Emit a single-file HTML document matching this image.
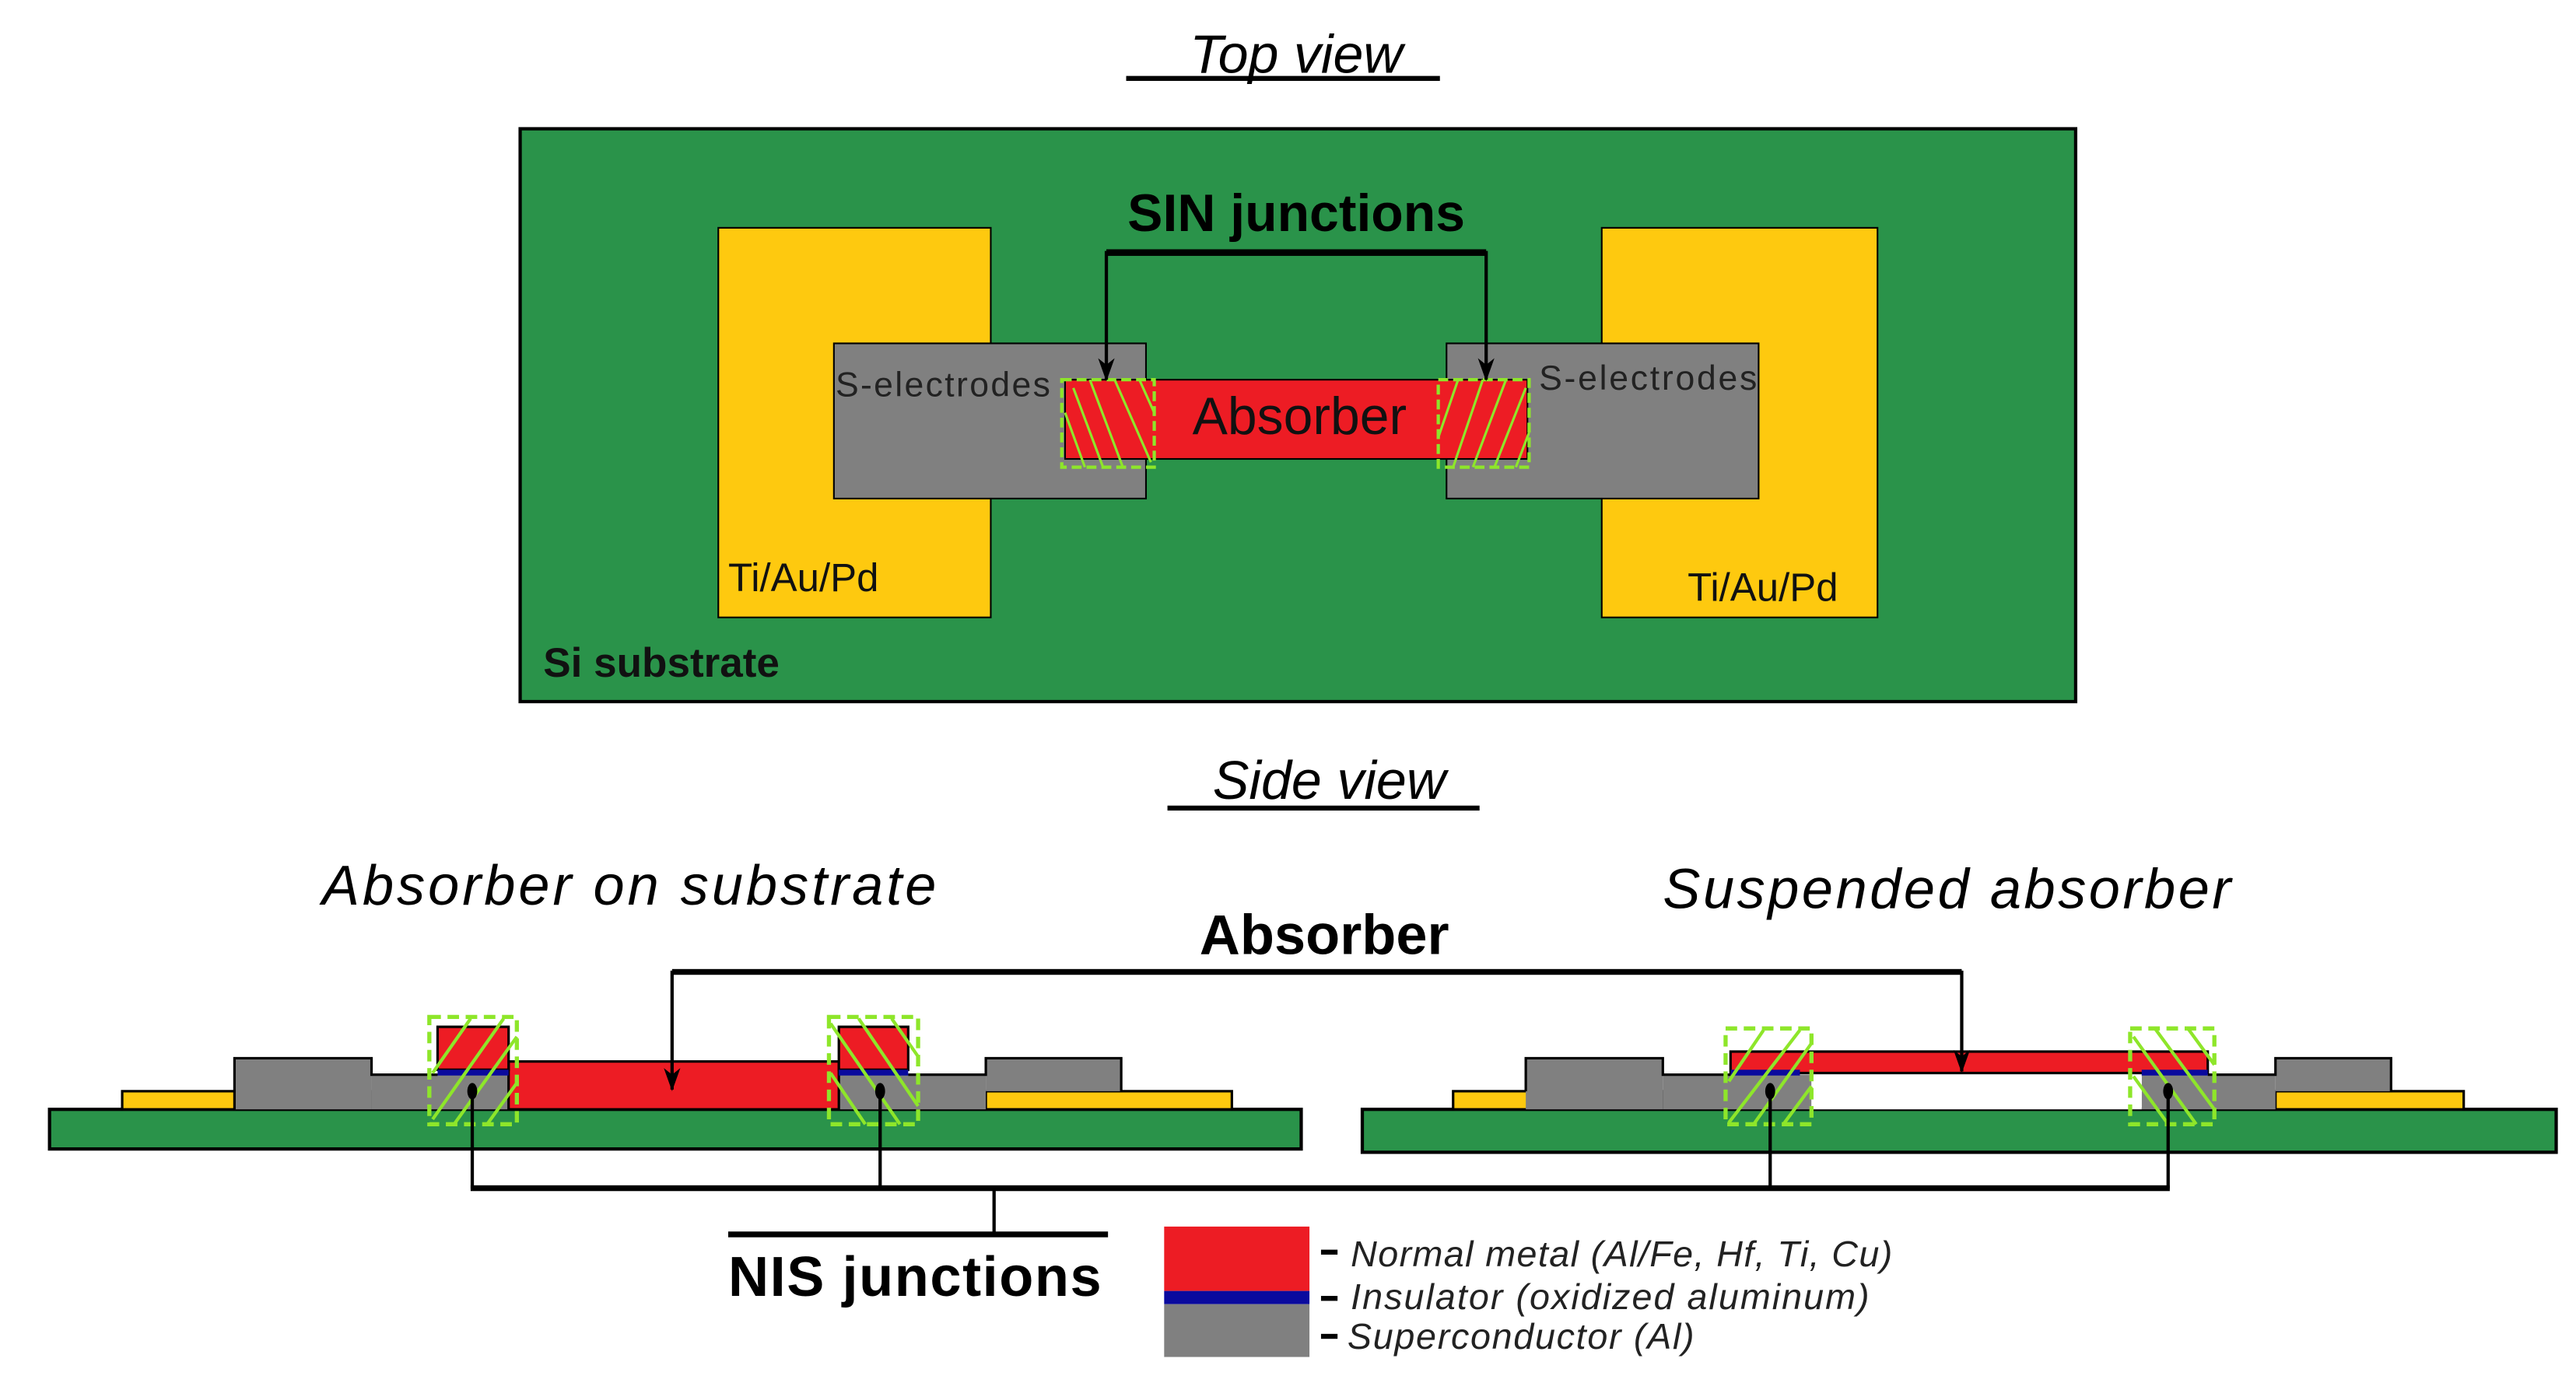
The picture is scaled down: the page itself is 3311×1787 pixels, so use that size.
<!DOCTYPE html>
<html><head><meta charset="utf-8"><style>html,body{margin:0;padding:0;background:#fff}svg{display:block}</style></head>
<body>
<svg width="3311" height="1787" viewBox="0 0 1560 842" preserveAspectRatio="none" xmlns="http://www.w3.org/2000/svg" font-family="Liberation Sans, sans-serif">
<defs>
<marker id="ar" markerWidth="14" markerHeight="10" refX="13" refY="5" orient="auto-start-reverse" markerUnits="userSpaceOnUse" viewBox="0 0 14 10"><path d="M0,0 L4,5 L0,10 L14,5 Z" fill="#000"/></marker>
</defs>
<!-- Top view -->
<text x="785" y="44" font-size="33" font-style="italic" text-anchor="middle">Top view</text>
<rect x="682" y="46" width="190" height="3" fill="#000"/>
<rect x="315" y="78" width="942" height="347" fill="#2a934a" stroke="#000" stroke-width="2"/>
<rect x="435" y="138" width="165" height="236" fill="#fec90f" stroke="#000" stroke-width="1"/>
<rect x="970" y="138" width="167" height="236" fill="#fec90f" stroke="#000" stroke-width="1"/>
<rect x="505" y="208" width="189" height="94" fill="#808080" stroke="#000" stroke-width="1"/>
<rect x="876" y="208" width="189" height="94" fill="#808080" stroke="#000" stroke-width="1"/>
<rect x="645" y="230" width="280" height="48" fill="#ed1c24" stroke="#000" stroke-width="1"/>
<g stroke="#8ee62a" stroke-width="1.5" fill="none">
<rect x="643" y="230" width="56" height="53" stroke-dasharray="6,3" stroke-width="2"/>
<path d="M650,235 L668,283 M660,230 L680,283 M675,230 L697,280 M690,230 L699,250 M645,250 L657,283"/>
<rect x="871" y="230" width="55" height="53" stroke-dasharray="6,3" stroke-width="2"/>
<path d="M880,283 L898,230 M892,283 L912,230 M905,283 L924,235 M918,283 L926,262 M871,265 L883,230"/>
</g>
<text x="787" y="263" font-size="32" text-anchor="middle" fill="#111">Absorber</text>
<text x="785" y="140" font-size="32" font-weight="bold" text-anchor="middle">SIN junctions</text>
<path d="M670,230 L670,153 L900,153 L900,230" fill="none" stroke="#000" stroke-width="2" marker-start="url(#ar)" marker-end="url(#ar)"/>
<rect x="670" y="151" width="230" height="4" fill="#000"/>
<text x="506" y="240" font-size="21" fill="#222" textLength="130">S-electrodes</text>
<text x="932" y="236" font-size="21" fill="#222" textLength="132">S-electrodes</text>
<text x="441" y="358" font-size="24" fill="#111">Ti/Au/Pd</text>
<text x="1022" y="364" font-size="24" fill="#111">Ti/Au/Pd</text>
<text x="329" y="410" font-size="25" font-weight="bold" fill="#111">Si substrate</text>

<!-- Side view -->
<text x="805" y="484" font-size="33" font-style="italic" text-anchor="middle">Side view</text>
<rect x="707" y="488" width="189" height="3" fill="#000"/>
<text x="195" y="548" font-size="34" font-style="italic" textLength="372">Absorber on substrate</text>
<text x="1007" y="550" font-size="34" font-style="italic" textLength="344">Suspended absorber</text>
<text x="802" y="578" font-size="34" font-weight="bold" text-anchor="middle">Absorber</text>

<!-- left cross-section -->
<rect x="30" y="672" width="758" height="24" fill="#2a934a" stroke="#000" stroke-width="2"/>
<rect x="74" y="661" width="151" height="11" fill="#fec90f" stroke="#000" stroke-width="1.5"/>
<rect x="597" y="661" width="149" height="11" fill="#fec90f" stroke="#000" stroke-width="1.5"/>
<rect x="142" y="641" width="83" height="31" fill="#808080"/>
<rect x="225" y="651" width="85" height="21" fill="#808080"/>
<path d="M142,672 L142,641 L225,641 L225,651 L265,651" fill="none" stroke="#000" stroke-width="1.5"/>
<rect x="597" y="641" width="82" height="20" fill="#808080"/>
<rect x="500" y="651" width="97" height="21" fill="#808080"/>
<path d="M550,651 L597,651 L597,641 L679,641 L679,661" fill="none" stroke="#000" stroke-width="1.5"/>
<rect x="308" y="643" width="200" height="29" fill="#ed1c24" stroke="#000" stroke-width="1.5"/>
<rect x="265" y="622" width="43" height="26" fill="#ed1c24" stroke="#000" stroke-width="1.5"/>
<rect x="265" y="648" width="43" height="3.5" fill="#0a0a9e"/>
<rect x="508" y="622" width="42" height="26" fill="#ed1c24" stroke="#000" stroke-width="1.5"/>
<rect x="508" y="648" width="42" height="3.5" fill="#0a0a9e"/>
<g stroke="#8ee62a" fill="none" stroke-width="2">
<rect x="260" y="616" width="53" height="65" stroke-dasharray="7,4" stroke-width="2.5"/>
<path d="M262,650 L285,617 M262,678 L305,617 M275,681 L313,628 M295,681 L313,656"/>
<rect x="502" y="616" width="54" height="65" stroke-dasharray="7,4" stroke-width="2.5"/>
<path d="M503,620 L545,681 M520,617 L556,670 M540,617 L556,640 M503,650 L524,681"/>
</g>

<!-- right cross-section -->
<rect x="825" y="672" width="723" height="26" fill="#2a934a" stroke="#000" stroke-width="2"/>
<rect x="880" y="661" width="127" height="11" fill="#fec90f" stroke="#000" stroke-width="1.5"/>
<rect x="1378" y="661" width="114" height="11" fill="#fec90f" stroke="#000" stroke-width="1.5"/>
<rect x="924" y="641" width="83" height="31" fill="#808080"/>
<rect x="1007" y="651" width="90" height="21" fill="#808080"/>
<path d="M924,661 L924,641 L1007,641 L1007,651 L1048,651" fill="none" stroke="#000" stroke-width="1.5"/>
<rect x="1378" y="641" width="70" height="20" fill="#808080"/>
<rect x="1297" y="651" width="81" height="21" fill="#808080"/>
<path d="M1337,651 L1378,651 L1378,641 L1448,641 L1448,661" fill="none" stroke="#000" stroke-width="1.5"/>
<rect x="1097" y="652" width="200" height="20" fill="#fff"/>
<rect x="1048" y="637" width="289" height="13" fill="#ed1c24" stroke="#000" stroke-width="1.5"/>
<rect x="1048" y="648" width="42" height="3.5" fill="#0a0a9e"/>
<rect x="1297" y="648" width="40" height="3.5" fill="#0a0a9e"/>
<g stroke="#8ee62a" fill="none" stroke-width="2">
<rect x="1045" y="623" width="52" height="58" stroke-dasharray="7,4" stroke-width="2.5"/>
<path d="M1047,655 L1068,624 M1047,680 L1090,624 M1062,681 L1097,632 M1080,681 L1097,658"/>
<rect x="1290" y="623" width="51" height="58" stroke-dasharray="7,4" stroke-width="2.5"/>
<path d="M1292,628 L1330,681 M1305,623 L1341,672 M1325,623 L1341,645 M1292,652 L1313,681"/>
</g>

<!-- Absorber connector (drawn on top) -->
<path d="M407,660 L407,589 L1188,589 L1188,649" fill="none" stroke="#000" stroke-width="2" marker-start="url(#ar)" marker-end="url(#ar)"/>
<rect x="407" y="587" width="781" height="3.5" fill="#000"/>

<!-- NIS connectors -->
<g fill="#000">
<ellipse cx="286" cy="661" rx="3" ry="5"/><ellipse cx="533" cy="661" rx="3" ry="5"/>
<ellipse cx="1072" cy="661" rx="3" ry="5"/><ellipse cx="1313" cy="661" rx="3" ry="5"/>
</g>
<path d="M286,661 V720 M533,661 V720 M1072,661 V720 M1313,661 V720 M602,720 V748" stroke="#000" stroke-width="2" fill="none"/>
<rect x="285" y="718" width="1029" height="3.5" fill="#000"/>
<rect x="441" y="746" width="230" height="3.5" fill="#000"/>
<text x="441" y="785" font-size="34" font-weight="bold" textLength="226">NIS junctions</text>

<!-- legend -->
<rect x="705" y="743" width="88" height="39" fill="#ed1c24"/>
<rect x="705" y="782" width="88" height="8" fill="#0a0a9e"/>
<rect x="705" y="790" width="88" height="32" fill="#808080"/>
<rect x="800" y="757" width="10" height="3" fill="#000"/>
<rect x="800" y="785" width="10" height="3" fill="#000"/>
<rect x="800" y="808" width="10" height="3" fill="#000"/>
<text x="818" y="767" font-size="22" font-style="italic" fill="#222" textLength="328">Normal metal (Al/Fe, Hf, Ti, Cu)</text>
<text x="818" y="793" font-size="22" font-style="italic" fill="#222" textLength="314">Insulator (oxidized aluminum)</text>
<text x="816" y="817" font-size="22" font-style="italic" fill="#222" textLength="210">Superconductor (Al)</text>
</svg>
</body></html>
